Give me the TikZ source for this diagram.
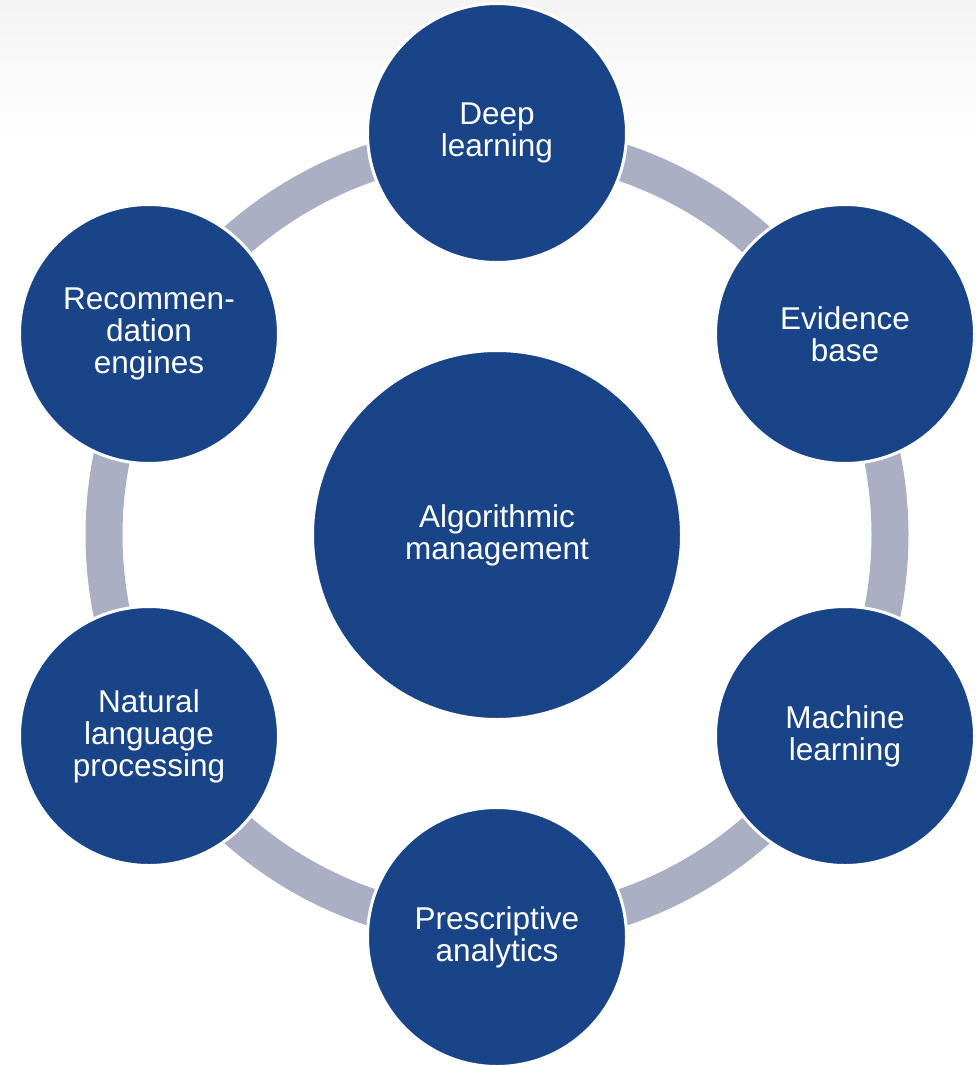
\documentclass[tikz,border=0pt]{standalone}
\usepackage{fontspec}
\setmainfont{Liberation Sans}
\usetikzlibrary{calc}
\definecolor{hubblue}{HTML}{1A4488}
\definecolor{ringgray}{HTML}{ABAFC4}
\pgfdeclarelayer{back}
\pgfsetlayers{back,main}
\begin{document}
\begin{tikzpicture}[x=1pt,y=-1pt,
  bubble/.style={circle, fill=hubblue, draw=white, line width=3pt,
    inner sep=0pt, minimum size=259pt, text=white, align=center,
    font=\fontsize{31.5}{32}\selectfont},
  hub/.style={bubble, minimum size=369pt},
  ringarc/.style={draw=ringgray, line width=37pt}]
  \useasboundingbox (0,0) rectangle (976,1065);

  % hub and its six satellites
  \coordinate (c) at (497,535);
  \node[hub] (hub) at (c) {Algorithmic\\management};
  \node[bubble] (n1) at (497,133) {Deep\\learning};
  \node[bubble] (n2) at (845,334) {Evidence\\base};
  \node[bubble] (n3) at (845,736) {Machine\\learning};
  \node[bubble] (n4) at (497,937) {Prescriptive\\analytics};
  \node[bubble] (n5) at (149,736) {Natural\\language\\processing};
  \node[bubble] (n6) at (149,334) {Recommen-\\dation\\engines};

  \begin{pgfonlayer}{back}
    % soft grey band along the top edge
    \shade[top color=gray!9, bottom color=white] (0,0) rectangle (976,140);
    % ring segments linking neighbouring satellites, centred on the hub
    \foreach \a in {-90,-30,30,90,150,210}
      \draw[ringarc] ($(hub.center)+(\a:393)$) arc[start angle=\a, end angle=\a+60, radius=393];
  \end{pgfonlayer}
\end{tikzpicture}
\end{document}
